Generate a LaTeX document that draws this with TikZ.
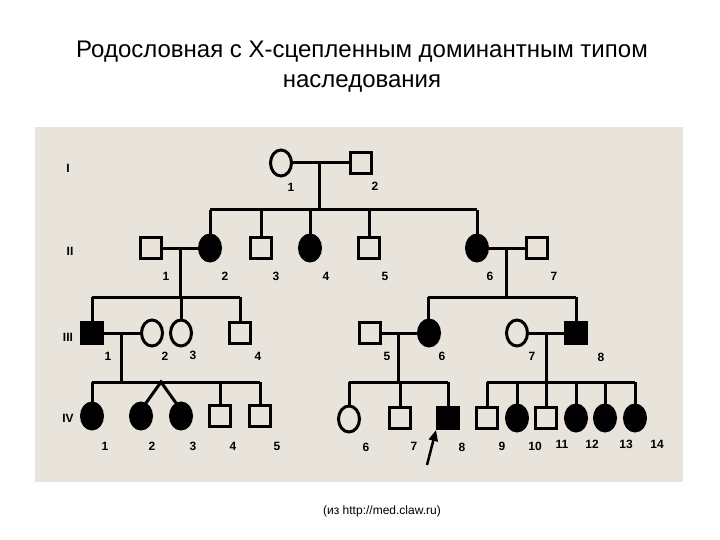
\documentclass[tikz,border=0pt]{standalone}
\usepackage{fontspec}
\setmainfont{Liberation Sans}
\usetikzlibrary{shapes.geometric,arrows.meta}
\definecolor{panel}{HTML}{E8E4DC}
\tikzset{
 ln/.style={line width=3pt},
 sq/.style={draw,line width=3pt,minimum size=21pt,inner sep=0pt,fill=panel},
 ci/.style={ellipse,draw,line width=3pt,minimum width=21pt,minimum height=26pt,inner sep=0pt,fill=panel},
 aff/.style={fill=black},
 lb/.style={font=\bfseries\fontsize{12}{14}\selectfont},
 gen/.style={font=\bfseries\fontsize{12}{14}\selectfont},
}
\begin{document}
\begin{tikzpicture}[x=1pt,y=-1pt]
\useasboundingbox (0,0) rectangle (720,540);
\fill[white] (0,0) rectangle (720,540);
\fill[panel] (35,127) rectangle (683,482);
\node[font=\fontsize{24}{28}\selectfont] (t1) at (362,52) {Родословная с Х-сцепленным доминантным типом};
\node[font=\fontsize{24}{28}\selectfont] (t2) at (362,83) {наследования};
\node[font=\fontsize{12}{14}\selectfont] (cap) at (382,511) {(из http://med.claw.ru)};
% generation labels
\node[gen] (gI) at (68,168) {I};
\node[gen] (gII) at (70,251) {II};
\node[gen] (gIII) at (68,337) {III};
\node[gen] (gIV) at (68,418) {IV};
% coordinates for lines
\coordinate (m1) at (319,163);
\coordinate (s1) at (319,210);
\coordinate (s1l) at (210,210);
\coordinate (s1r) at (477,210);
\coordinate (m21) at (180,248);
\coordinate (s21) at (180,297);
\coordinate (s21l) at (92,297);
\coordinate (s21r) at (240,297);
\coordinate (m26) at (506,248);
\coordinate (s26) at (506,297);
\coordinate (s26l) at (428,297);
\coordinate (s26r) at (576,297);
\coordinate (m31) at (121,333);
\coordinate (s31) at (121,382);
\coordinate (s31l) at (92,382);
\coordinate (s31r) at (260,382);
\coordinate (tw) at (161,382);
\coordinate (m35) at (398,333);
\coordinate (s35) at (398,382);
\coordinate (s35l) at (349,382);
\coordinate (s35r) at (448,382);
\coordinate (m37) at (546,333);
\coordinate (s37) at (546,382);
\coordinate (s37l) at (487,382);
\coordinate (s37r) at (635,382);
% lines
\draw[ln] (281,163) -- (361,163);
\draw[ln] (m1) -- (s1);
\draw[ln] (s1l) -- (s1r);
\foreach \x in {210,261,310,369,477} \draw[ln] (\x,210) -- (\x,246);
\draw[ln] (151,248) -- (210,248);
\draw[ln] (477,248) -- (537,248);
\draw[ln] (m21) -- (s21);
\draw[ln] (m26) -- (s26);
\draw[ln] (s21l) -- (s21r);
\draw[ln] (s26l) -- (s26r);
\foreach \x in {92,181,240,428,576} \draw[ln] (\x,297) -- (\x,330);
\draw[ln] (92,333) -- (152,333);
\draw[ln] (370,333) -- (429,333);
\draw[ln] (517,333) -- (576,333);
\draw[ln] (m31) -- (s31);
\draw[ln] (m35) -- (s35);
\draw[ln] (m37) -- (s37);
\draw[ln] (s31l) -- (s31r);
\draw[ln] (s35l) -- (s35r);
\draw[ln] (s37l) -- (s37r);
\foreach \x in {92,220,260,349,400,448,487,517,546,576,605,635} \draw[ln] (\x,382) -- (\x,412);
\draw[ln] (141,410) -- (tw) -- (181,410);
% Gen I
\node[ci] (I1) at (281,163) {};
\node[sq] (I2) at (361,163) {};
% Gen II
\node[sq] (II1) at (151,248) {};
\node[ci,aff] (II2) at (210,248) {};
\node[sq] (II3) at (261,248) {};
\node[ci,aff] (II4) at (310,248) {};
\node[sq] (II5) at (369,248) {};
\node[ci,aff] (II6) at (477,248) {};
\node[sq] (II7) at (537,248) {};
% Gen III
\node[sq,aff] (III1) at (92,333) {};
\node[ci] (III2) at (152,333) {};
\node[ci] (III3) at (181,333) {};
\node[sq] (III4) at (240,333) {};
\node[sq] (III5) at (370,333) {};
\node[ci,aff] (III6) at (429,333) {};
\node[ci] (III7) at (517,333) {};
\node[sq,aff] (III8) at (576,333) {};
% Gen IV
\node[ci,aff] (IV1) at (92,416) {};
\node[ci,aff] (IV2) at (141,416) {};
\node[ci,aff] (IV3) at (181,416) {};
\node[sq] (IV4) at (220,416) {};
\node[sq] (IV5) at (260,416) {};
\node[ci] (IV6) at (349,419) {};
\node[sq] (IV7) at (400,418) {};
\node[sq,aff] (IV8) at (448,418) {};
\node[sq] (IV9) at (487,418) {};
\node[ci,aff] (IV10) at (517,418) {};
\node[sq] (IV11) at (546,418) {};
\node[ci,aff] (IV12) at (576,418) {};
\node[ci,aff] (IV13) at (605,418) {};
\node[ci,aff] (IV14) at (635,418) {};
% number labels
\foreach \t/\x/\y in {1/291/187,2/375/186,
 1/166/276,2/225/276,3/276/276,4/326/276,5/385/276,6/490/276,7/554/276,
 1/108/356,2/165/356,3/193/355,4/258/356,5/387/356,6/442/356,7/532/356,8/601/357,
 1/105/446,2/152/446,3/193/446,4/233/446,5/277/446,6/366/447,7/414/446,8/462/447,
 9/502/446,10/535/446,11/562/444,12/592/444,13/626/444,14/657/444}
 \node[lb] at (\x,\y) {\t};
% proband arrow
\coordinate (ar0) at (427,465);
\draw[line width=2.5pt,-{Triangle[length=11pt,width=9pt]}] (ar0) -- (IV8.south west);
\end{tikzpicture}
\end{document}
